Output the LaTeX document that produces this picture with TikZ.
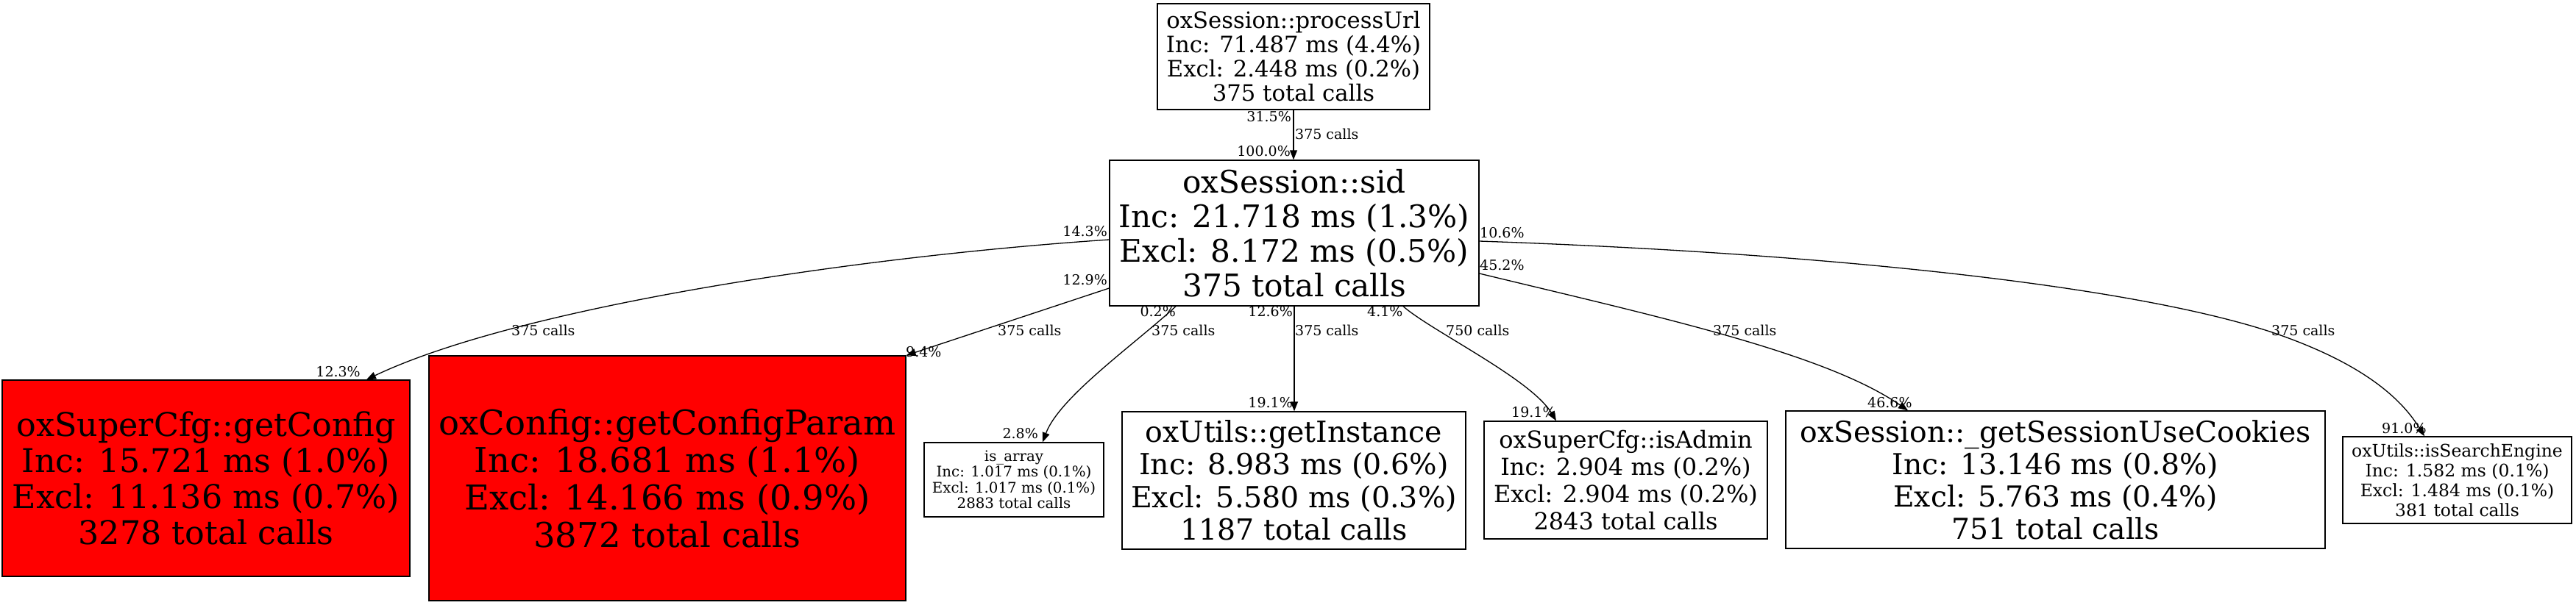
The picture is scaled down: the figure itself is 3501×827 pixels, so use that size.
\documentclass[tikz,border=0pt]{standalone}
\usepackage{fontspec}
\setmainfont{DejaVu Serif}
\usetikzlibrary{arrows.meta,calc}
\tikzset{
  fn/.style={draw, line width=1.3pt, inner sep=0pt, align=center, fill=white},
  hot/.style={fn, fill=red},
  lbl/.style={font=\fontsize{19}{20}\selectfont, inner sep=0pt},
  call/.style={line width=1.3pt, -{Triangle[length=13pt,width=10pt]}}
}
\begin{document}
\begin{tikzpicture}[x=1pt,y=-1pt]
\useasboundingbox (0,0) rectangle (3501,827);
% nodes
\node[fn, minimum width=370pt, minimum height=144pt, font=\fontsize{30.7}{33}\selectfont] (pu) at (1758,77)
  {oxSession::processUrl\\Inc: 71.487 ms (4.4\%)\\Excl: 2.448 ms (0.2\%)\\375 total calls};
\node[fn, minimum width=502pt, minimum height=198pt, font=\fontsize{42.3}{47}\selectfont] (sid) at (1759,317)
  {oxSession::sid\\Inc: 21.718 ms (1.3\%)\\Excl: 8.172 ms (0.5\%)\\375 total calls};
\node[hot, minimum width=554pt, minimum height=267pt, font=\fontsize{44.4}{49}\selectfont] (gc) at (280,650.5)
  {oxSuperCfg::getConfig\\Inc: 15.721 ms (1.0\%)\\Excl: 11.136 ms (0.7\%)\\3278 total calls};
\node[hot, minimum width=648pt, minimum height=333pt, font=\fontsize{46.5}{51}\selectfont] (gcp) at (907,650.5)
  {oxConfig::getConfigParam\\Inc: 18.681 ms (1.1\%)\\Excl: 14.166 ms (0.9\%)\\3872 total calls};
\node[fn, minimum width=244pt, minimum height=101pt, font=\fontsize{19.8}{21.5}\selectfont] (ia) at (1378,652.5)
  {is\_array\\Inc: 1.017 ms (0.1\%)\\Excl: 1.017 ms (0.1\%)\\2883 total calls};
\node[fn, minimum width=467pt, minimum height=187pt, font=\fontsize{39.5}{44.5}\selectfont] (gi) at (1758.5,653.5)
  {oxUtils::getInstance\\Inc: 8.983 ms (0.6\%)\\Excl: 5.580 ms (0.3\%)\\1187 total calls};
\node[fn, minimum width=385pt, minimum height=160pt, font=\fontsize{32}{37}\selectfont] (adm) at (2209.5,653)
  {oxSuperCfg::isAdmin\\Inc: 2.904 ms (0.2\%)\\Excl: 2.904 ms (0.2\%)\\2843 total calls};
\node[fn, minimum width=733pt, minimum height=187pt, font=\fontsize{39.3}{44}\selectfont] (ck) at (2793.5,652.5)
  {oxSession::\_getSessionUseCookies\\Inc: 13.146 ms (0.8\%)\\Excl: 5.763 ms (0.4\%)\\751 total calls};
\node[fn, minimum width=311pt, minimum height=118pt, font=\fontsize{23.5}{27}\selectfont] (se) at (3339.5,653)
  {oxUtils::isSearchEngine\\Inc: 1.582 ms (0.1\%)\\Excl: 1.484 ms (0.1\%)\\381 total calls};
% connectors
\draw[call] (pu.south) -- (pu.south |- sid.north);
\draw[call] ([yshift=-9pt]sid.west) .. controls (1150,350) and (700,420) .. ([xshift=218pt]gc.north);
\draw[call] ([yshift=-75pt]sid.west) -- (gcp.north east);
\draw[call] ([xshift=-161pt]sid.south) .. controls (1540,470) and (1440,540) .. ([xshift=39pt]ia.north);
\draw[call] (sid.south) -- (sid.south |- gi.north);
\draw[call] ([xshift=148pt]sid.south) .. controls (1945,450) and (2080,515) .. ([xshift=-94.5pt]adm.north);
\draw[call] ([yshift=-55pt]sid.east) .. controls (2250,430) and (2480,480) .. ([xshift=-200.5pt]ck.north);
\draw[call] ([yshift=-11pt]sid.east) .. controls (2500,345) and (2900,390) .. (3088,452)
  .. controls (3170,480) and (3250,520) .. ([xshift=-44.5pt]se.north);
% labels
\node[lbl, anchor=base east] (l1a) at (1755,165) {31.5\%};
\node[lbl, anchor=base west] (l1b) at (1760,189) {375 calls};
\node[lbl, anchor=base east] (l1c) at (1754,212) {100.0\%};
\node[lbl, anchor=base east] (l2a) at (1505,321) {14.3\%};
\node[lbl, anchor=base west] (l2b) at (695,456) {375 calls};
\node[lbl, anchor=base east] (l2c) at (490,512) {12.3\%};
\node[lbl, anchor=base east] (l3a) at (1505,387) {12.9\%};
\node[lbl, anchor=base west] (l3b) at (1356,456) {375 calls};
\node[lbl, anchor=base west] (l3c) at (1231,485) {9.4\%};
\node[lbl, anchor=base east] (l4a) at (1598,430) {0.2\%};
\node[lbl, anchor=base west] (l4b) at (1565,456) {375 calls};
\node[lbl, anchor=base east] (l4c) at (1411,596) {2.8\%};
\node[lbl, anchor=base east] (l5a) at (1757,430) {12.6\%};
\node[lbl, anchor=base west] (l5b) at (1760,456) {375 calls};
\node[lbl, anchor=base east] (l5c) at (1757,554) {19.1\%};
\node[lbl, anchor=base west] (l6a) at (1858,430) {4.1\%};
\node[lbl, anchor=base west] (l6b) at (1965,456) {750 calls};
\node[lbl, anchor=base west] (l6c) at (2054,567) {19.1\%};
\node[lbl, anchor=base west] (l7a) at (2011,367) {45.2\%};
\node[lbl, anchor=base west] (l7b) at (2328,456) {375 calls};
\node[lbl, anchor=base west] (l7c) at (2538,554) {46.6\%};
\node[lbl, anchor=base west] (l8a) at (2011,323) {10.6\%};
\node[lbl, anchor=base west] (l8b) at (3087,456) {375 calls};
\node[lbl, anchor=base west] (l8c) at (3237,589) {91.0\%};
\end{tikzpicture}
\end{document}
